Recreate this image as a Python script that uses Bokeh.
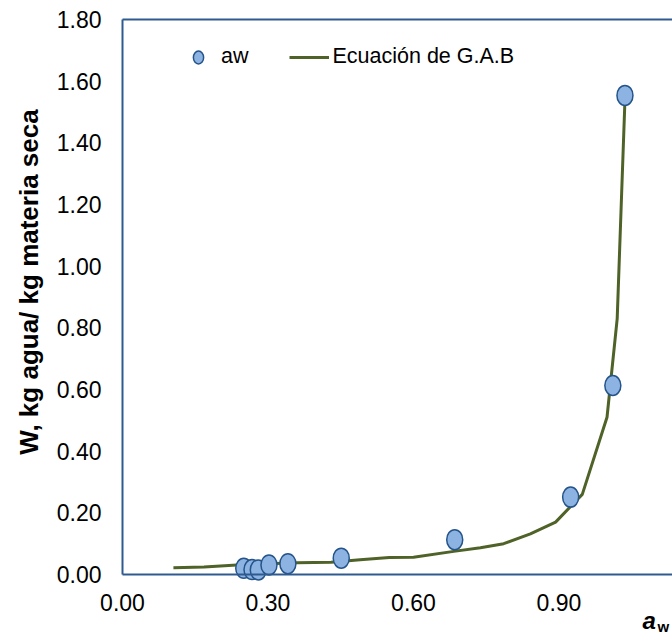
import math
from bokeh.plotting import figure
from bokeh.models import (FixedTicker, NumeralTickFormatter, Label, Legend,
                          LegendItem, LinearAxis)
from bokeh.embed import file_html
from bokeh.resources import INLINE

# ---- data ----
aw_obs = [0.250, 0.267, 0.280, 0.302, 0.341, 0.451, 0.685, 0.924, 1.011, 1.036]
w_obs = [0.020, 0.016, 0.015, 0.031, 0.035, 0.053, 0.113, 0.251, 0.613, 1.554]

aw_gab = [0.105, 0.168, 0.236, 0.300, 0.360, 0.430, 0.490, 0.550, 0.600, 0.683,
          0.738, 0.786, 0.841, 0.893, 0.948, 0.999, 1.020, 1.036]
w_gab = [0.022, 0.024, 0.031, 0.035, 0.038, 0.040, 0.048, 0.055, 0.056, 0.075,
         0.087, 0.100, 0.132, 0.170, 0.260, 0.510, 0.830, 1.540]

x_ticks = [0.0, 0.3, 0.6, 0.9]
y_ticks = [0.0, 0.2, 0.4, 0.6, 0.8, 1.0, 1.2, 1.4, 1.6, 1.8]

series_obs = "aw"
series_gab = "Ecuación de G.A.B"
y_title = "W, kg agua/ kg materia seca"

AXIS_BLUE = "#2F5A8F"
FONT = "Liberation Sans"

# plot-area geometry (pixels)
W, H = 672, 635
LEFT, TOP, BOTTOM = 122, 19, 574
PX_X = 485.0      # pixels per unit of aw
PX_Y = 308.3      # pixels per unit of W
X_END = (W - LEFT) / PX_X
Y_MAX = 1.8

p = figure(width=W, height=H, output_backend="svg", toolbar_location=None,
           x_range=(-LEFT / PX_X, X_END),
           y_range=((BOTTOM - H) / PX_Y, BOTTOM / PX_Y),
           min_border=0, x_axis_type=None, y_axis_type=None)
p.outline_line_color = None
p.background_fill_color = "white"
p.border_fill_color = "white"


def style(ax, ticks):
    ax.axis_line_color = AXIS_BLUE
    ax.axis_line_width = 2
    ax.major_tick_line_color = None
    ax.minor_tick_line_color = None
    ax.major_tick_out = 0
    ax.major_tick_in = 0
    ax.major_label_text_font = FONT
    ax.major_label_text_font_size = "23px"
    ax.major_label_text_color = "#000000"
    ax.formatter = NumeralTickFormatter(format="0.00")
    ax.ticker = FixedTicker(ticks=ticks)


xaxis = LinearAxis(fixed_location=0, bounds=(0, X_END))
style(xaxis, x_ticks)
xaxis.major_label_standoff = 19
p.add_layout(xaxis, "below")

yaxis = LinearAxis(fixed_location=0, bounds=(0, Y_MAX))
style(yaxis, y_ticks)
yaxis.major_label_standoff = 21
p.add_layout(yaxis, "left")

topaxis = LinearAxis(fixed_location=Y_MAX, bounds=(0, X_END))
style(topaxis, [])
topaxis.major_label_text_font_size = "0px"
p.add_layout(topaxis, "above")

gab = p.line(aw_gab, w_gab, line_color="#4F6228", line_width=3)
obs = p.ellipse(x=aw_obs, y=w_obs, width=16, height=20,
                width_units="screen", height_units="screen",
                fill_color="#8DB3E2", line_color="#24548A", line_width=1.5)

legend = Legend(items=[LegendItem(label=series_obs, renderers=[obs]),
                       LegendItem(label=series_gab, renderers=[gab])],
                orientation="horizontal", location=(178, H - 69),
                glyph_width=40, glyph_height=16, label_standoff=3, spacing=41,
                padding=0, margin=0, border_line_color=None,
                background_fill_alpha=0,
                label_text_font=FONT, label_text_font_size="21.5px",
                label_text_color="#000000")
p.add_layout(legend)

p.add_layout(Label(x=(28 - LEFT) / PX_X, y=(BOTTOM - 281.5) / PX_Y, text=y_title,
                   angle=math.pi / 2, text_align="center", text_baseline="middle",
                   text_font=FONT, text_font_style="bold",
                   text_font_size="26px", text_color="#000000"))
p.add_layout(Label(x=(642 - LEFT) / PX_X, y=(BOTTOM - 620) / PX_Y, text="a",
                   text_font=FONT, text_font_style="bold italic",
                   text_font_size="24px", text_baseline="middle",
                   text_color="#000000"))
p.add_layout(Label(x=(657 - LEFT) / PX_X, y=(BOTTOM - 626) / PX_Y, text="w",
                   text_font=FONT, text_font_style="bold",
                   text_font_size="15px", text_baseline="middle",
                   text_color="#000000"))

open("out.html", "w").write(file_html(p, INLINE))
